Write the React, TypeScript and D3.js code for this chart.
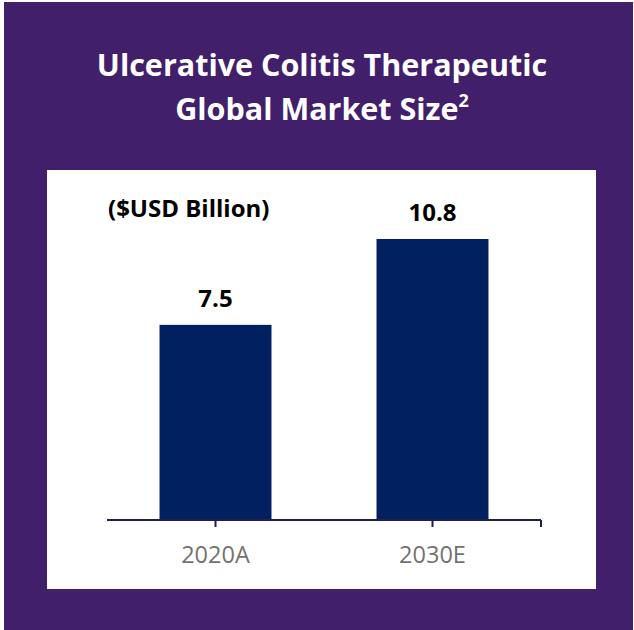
import React from "react";
import * as d3 from "d3";

const categories = ["2020A", "2030E"];
const values = [7.5, 10.8];
const valueLabels = ["7.5", "10.8"];
const titleLines = ["Ulcerative Colitis Therapeutic", "Global Market Size"];
const unitLabel = "($USD Billion)";

export default function App() {
  const W = 634, H = 630;
  const x = d3.scaleBand<string>().domain(categories).range([107, 541]).paddingInner(0.484).paddingOuter(0.242);
  const y = d3.scaleLinear().domain([0, 10.8]).range([520, 239]);
  const font = "'Open Sans', sans-serif";
  const ticks = [...categories.map((c) => (x(c) as number) + x.bandwidth() / 2), 541];
  return (
    <svg width={W} height={H} style={{ position: "fixed", left: 0, top: 0 }}>
      <rect x={0} y={0} width={W} height={H} fill="#ffffff" />
      <rect x={4} y={2} width={629} height={628} fill="#421F6B" />
      <rect x={47} y={170} width={549} height={419} fill="#ffffff" />
      <text x={322} y={76} textAnchor="middle" fill="#fff" fontFamily={font} fontWeight={700} fontSize={30.5}>{titleLines[0]}</text>
      <text x={322} y={120} textAnchor="middle" fill="#fff" fontFamily={font} fontWeight={700} fontSize={30.5}>
        {titleLines[1]}
        <tspan fontSize={18} dy={-13}>2</tspan>
      </text>
      <text x={108} y={217} fill="#000" fontFamily={font} fontWeight={700} fontSize={24}>{unitLabel}</text>
      {categories.map((c, i) => (
        <g key={c}>
          <rect x={x(c)} y={y(values[i])} width={x.bandwidth()} height={520 - y(values[i])} fill="#002060" />
          <text x={(x(c) as number) + x.bandwidth() / 2} y={y(values[i]) - 18} textAnchor="middle" fill="#000" fontFamily={font} fontWeight={700} fontSize={24}>{valueLabels[i]}</text>
          <text x={(x(c) as number) + x.bandwidth() / 2} y={563} textAnchor="middle" fill="#767171" fontFamily={font} fontSize={23.5}>{c}</text>
        </g>
      ))}
      <line x1={107} x2={541} y1={520} y2={520} stroke="#1F1F4F" strokeWidth={2} />
      {ticks.map((t, i) => (
        <line key={i} x1={t} x2={t} y1={520} y2={527} stroke="#1F1F4F" strokeWidth={2} />
      ))}
    </svg>
  );
}
